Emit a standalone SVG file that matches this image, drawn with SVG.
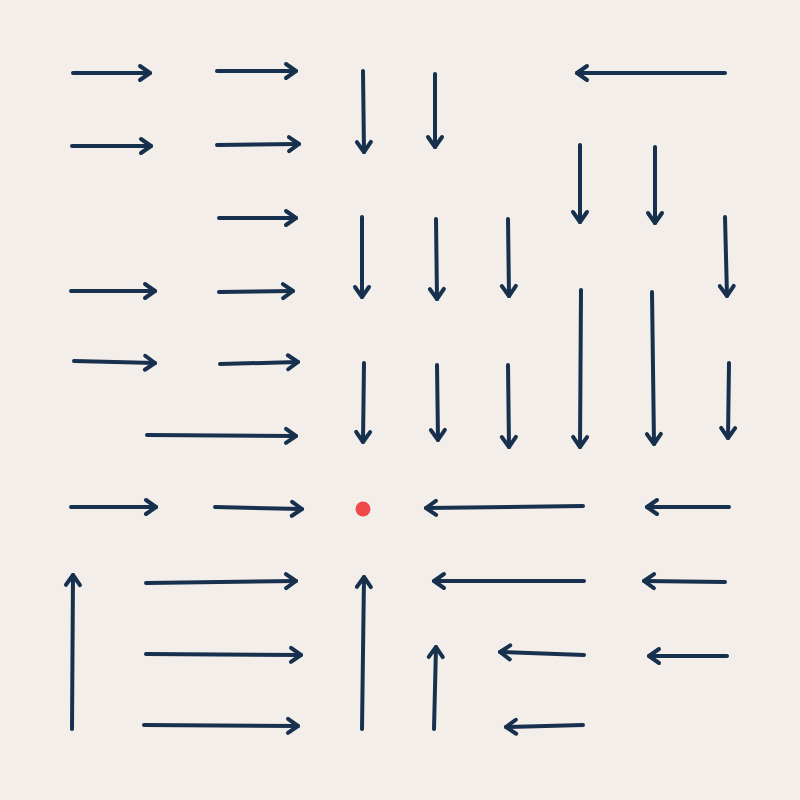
<svg xmlns="http://www.w3.org/2000/svg" width="800" height="800" viewBox="0 0 800 800">
<defs>
<style>
.a{stroke:#17304d;stroke-width:4;stroke-linecap:round;fill:none;marker-end:url(#h)}
</style>
<marker id="h" markerUnits="userSpaceOnUse" viewBox="-12 -10 16 20" refX="0" refY="0" markerWidth="16" markerHeight="20" orient="auto" overflow="visible">
<path d="M-10,-7 L0,0 L-10,7" fill="none" stroke="#17304d" stroke-width="4" stroke-linecap="round" stroke-linejoin="round"/>
</marker>
</defs>
<rect width="800" height="800" fill="#f3eeea"/>
<g id="connectors">
<line class="a" x1="73" y1="73" x2="150" y2="73"/>
<line class="a" x1="217" y1="71" x2="296" y2="71"/>
<line class="a" x1="363" y1="71" x2="364" y2="152"/>
<line class="a" x1="435" y1="74" x2="435" y2="147"/>
<line class="a" x1="725" y1="73" x2="577" y2="73"/>
<line class="a" x1="72" y1="146" x2="151" y2="146"/>
<line class="a" x1="217" y1="145" x2="299" y2="144"/>
<line class="a" x1="580" y1="145" x2="580" y2="222"/>
<line class="a" x1="655" y1="147" x2="655" y2="223"/>
<line class="a" x1="219" y1="218" x2="296" y2="218"/>
<line class="a" x1="362" y1="217" x2="362" y2="297"/>
<line class="a" x1="436" y1="219" x2="437" y2="299"/>
<line class="a" x1="508" y1="219" x2="509" y2="296"/>
<line class="a" x1="725" y1="217" x2="727" y2="296"/>
<line class="a" x1="71" y1="291" x2="155" y2="291"/>
<line class="a" x1="219" y1="292" x2="293" y2="291"/>
<line class="a" x1="581" y1="290" x2="580" y2="447"/>
<line class="a" x1="652" y1="292" x2="654" y2="444"/>
<line class="a" x1="74" y1="361" x2="155" y2="363"/>
<line class="a" x1="220" y1="364" x2="298" y2="362"/>
<line class="a" x1="364" y1="363" x2="363" y2="442"/>
<line class="a" x1="437" y1="365" x2="438" y2="440"/>
<line class="a" x1="508" y1="365" x2="509" y2="447"/>
<line class="a" x1="729" y1="363" x2="728" y2="438"/>
<line class="a" x1="147" y1="435" x2="296" y2="436"/>
<line class="a" x1="71" y1="507" x2="156" y2="507"/>
<line class="a" x1="215" y1="507" x2="302" y2="509"/>
<line class="a" x1="583" y1="506" x2="426" y2="508"/>
<line class="a" x1="729" y1="507" x2="647" y2="507"/>
<line class="a" x1="72" y1="729" x2="73" y2="575"/>
<line class="a" x1="146" y1="583" x2="296" y2="581"/>
<line class="a" x1="362" y1="729" x2="364" y2="577"/>
<line class="a" x1="584" y1="581" x2="434" y2="581"/>
<line class="a" x1="725" y1="582" x2="644" y2="581"/>
<line class="a" x1="146" y1="654" x2="301" y2="655"/>
<line class="a" x1="434" y1="729" x2="436" y2="647"/>
<line class="a" x1="584" y1="655" x2="500" y2="652"/>
<line class="a" x1="727" y1="656" x2="649" y2="656"/>
<line class="a" x1="144" y1="725" x2="298" y2="726"/>
<line class="a" x1="583" y1="725" x2="506" y2="727"/>
</g>
<g id="target">
<circle cx="363" cy="509" r="7.5" fill="#f04a48"/>
</g>
</svg>
